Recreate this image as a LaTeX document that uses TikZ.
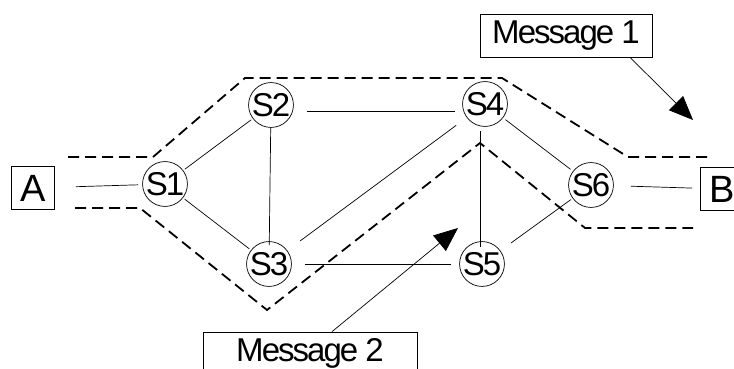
\documentclass[tikz,border=0pt]{standalone}
\usepackage{fontspec}
\newfontfamily\netfont{Liberation Sans}[LetterSpace=-6]
\usepackage{tikz}
\usetikzlibrary{arrows.meta,positioning,calc}

\begin{document}
\begin{tikzpicture}[
        x=1pt, y=-1pt,
        % styles for the switching network
        switch/.style={draw, circle, line width=0.7pt, minimum size=44pt, inner sep=0pt, font=\netfont\fontsize{33}{33}\selectfont},
        host/.style={draw, line width=0.7pt, minimum width=43pt, minimum height=43pt, inner sep=0pt, font=\netfont\fontsize{38}{38}\selectfont},
        msgbox/.style={draw, line width=0.7pt, minimum height=43pt, inner sep=0pt, font=\netfont\fontsize{33}{33}\selectfont},
        link/.style={line width=0.7pt, shorten >=8pt, shorten <=8pt},
        route/.style={line width=1.8pt, dash pattern=on 11pt off 6pt},
        pointer/.style={line width=0.7pt, -{Triangle[length=24pt, width=20pt]}}
      ]

      % page frame
      \useasboundingbox (0,0) rectangle (734,369);
      \fill[white] (0,0) rectangle (734,369);

      % end hosts and switches
      \node[host] (A) at (33,188) {A};
      \node[host] (B) at (722,189) {B};
      \node[switch] (S1) at (165,184) {S1};
      \node[switch] (S2) at (271,105) {S2};
      \node[switch] (S3) at (269,264) {S3};
      \node[switch] (S4) at (485,104) {S4};
      \node[switch] (S5) at (482,264) {S5};
      \node[switch] (S6) at (591,185) {S6};

      % links
      \draw[link, shorten <=21pt, shorten >=4pt] (A) -- (S1);
      \draw[link, shorten <=2pt, shorten >=2pt] (S1) -- (S2);
      \draw[link, shorten <=2pt, shorten >=2pt] (S1) -- (S3);
      \draw[link, shorten <=0pt, shorten >=-4pt] (S2) -- (S3);
      \draw[link, shorten <=36pt, shorten >=30pt] ($(S2)+(0,6)$) -- ($(S4)+(0,7)$);
      \draw[link, shorten <=16pt, shorten >=13pt] (S3) -- (S4);
      \draw[link, shorten <=13pt, shorten >=8pt] (S3) -- (S5);
      \draw[link, shorten <=27pt, shorten >=17pt] ($(S4)+(-5,0)$) -- ($(S5)+(-2,0)$);
      \draw[link, shorten <=3pt, shorten >=3pt] (S4) -- (S6);
      \draw[link, shorten <=13pt, shorten >=2pt] (S5) -- (S6);
      \draw[link, shorten <=17pt, shorten >=8pt] (S6) -- (B);

      % the two routes
      \draw[route] (68,157) -- (153,157) -- (245,78) -- (502,78) -- (628,157) -- (713,157);
      \draw[route] (75,208) -- (140,208) -- (267,310) -- (480,143) -- (585,228) -- (693,228);

      % message labels
      \node[msgbox, minimum width=172pt] (msg1) at (566,35.5) {Message 1};
      \node[msgbox, minimum width=214pt] (msg2) at (310,353.5) {Message 2};
      \coordinate (tip1) at (693,120);
      \coordinate (tip2) at (458,228);
      \draw[pointer] ($(msg1.south)+(64,0)$) -- (tip1);
      \draw[pointer] ($(msg2.north)+(22,0)$) -- (tip2);

    \end{tikzpicture}
\end{document}
